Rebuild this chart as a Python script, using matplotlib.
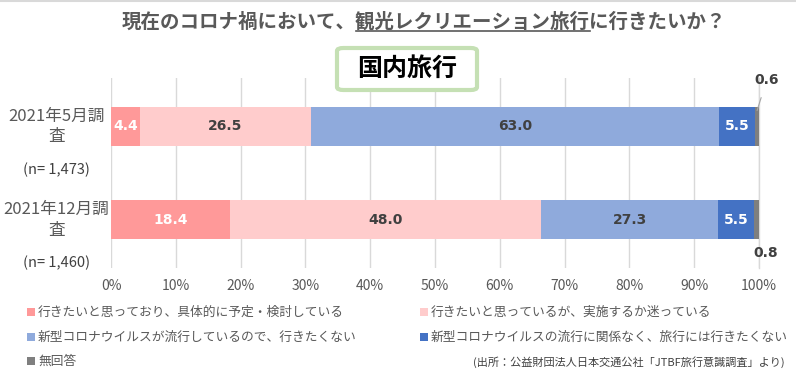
import matplotlib
matplotlib.use('Agg')
import matplotlib.pyplot as plt
from matplotlib.patches import Rectangle, FancyBboxPatch
from matplotlib.lines import Line2D
import matplotlib.transforms as mtransforms
import numpy as np

plt.rcParams['font.family'] = ['Noto Sans CJK JP', 'DejaVu Sans']

surveys = ['2021年5月調\n査', '2021年12月調\n査']
sample_sizes = ['(n= 1,473)', '(n= 1,460)']
categories = ['行きたいと思っており、具体的に予定・検討している',
              '行きたいと思っているが、実施するか迷っている',
              '新型コロナウイルスが流行しているので、行きたくない',
              '新型コロナウイルスの流行に関係なく、旅行には行きたくない',
              '無回答']
may_values = [4.4, 26.5, 63.0, 5.5, 0.6]
dec_values = [18.4, 48.0, 27.3, 5.5, 0.8]
colors = ['#FF9999', '#FFCCCC', '#8FAADC', '#4472C4', '#7F7F7F']
label_colors = ['white', '#404040', '#404040', 'white', '#404040']

text_gray = '#595959'

fig = plt.figure(figsize=(7.96, 3.70), dpi=100)
ax = fig.add_axes([111 / 796, 1 - 268 / 370, 648 / 796, 190 / 370])

data = np.array([may_values, dec_values])
y = np.arange(len(surveys))
left = np.zeros(len(surveys))
for i in range(len(categories)):
    ax.barh(y, data[:, i], left=left, height=0.41, color=colors[i], zorder=2)
    for j in range(len(surveys)):
        v = data[j, i]
        if i < 4:
            ax.text(left[j] + v / 2, y[j], f'{v:.1f}', ha='center', va='center',
                    color=label_colors[i], fontsize=10, fontweight='bold',
                    family='DejaVu Sans', zorder=3)
    left += data[:, i]

# small "no answer" labels outside the bars
ax.annotate(f'{may_values[4]:.1f}', xy=(100 - may_values[4] / 2, y[0] - 0.17),
            xytext=(101.2, y[0] - 0.5), ha='center', va='center',
            fontsize=10, fontweight='bold', family='DejaVu Sans', color='#404040',
            arrowprops=dict(arrowstyle='-', color='#A6A6A6', lw=0.8,
                            shrinkA=6, shrinkB=0), annotation_clip=False)
ax.text(101.0, y[1] + 0.36, f'{dec_values[4]:.1f}', ha='center', va='center',
        fontsize=10, fontweight='bold', family='DejaVu Sans', color='#404040')

ax.set_xlim(0, 100)
ax.set_ylim(1.52, -0.52)
ax.set_xticks(np.arange(0, 101, 10))
ax.set_xticklabels([f'{t}%' for t in range(0, 101, 10)], fontsize=10, color=text_gray)
ax.tick_params(axis='x', length=0, pad=8)
ax.set_yticks([])
ax.grid(axis='x', color='#D9D9D9', lw=1, zorder=0)
ax.axvline(100, color='#D9D9D9', lw=1, zorder=0, clip_on=False)
for s in ax.spines.values():
    s.set_visible(False)

# category labels on the left
trans = mtransforms.blended_transform_factory(ax.transAxes, ax.transData)
for j in range(len(surveys)):
    ax.text(-0.084, y[j], surveys[j], transform=trans, ha='center', va='center',
            fontsize=12, color=text_gray, linespacing=1.3)
    ax.text(-0.084, y[j] + 0.47, sample_sizes[j], transform=trans, ha='center',
            va='center', fontsize=10.5, color='#404040')

# title with underline on the middle part
title = fig.text(0.533, 0.94, '現在のコロナ禍において、観光レクリエーション旅行に行きたいか？',
                 ha='center', va='center', fontsize=14, fontweight='bold', color=text_gray)
fig.canvas.draw()
bb = title.get_window_extent()
cw = bb.width / 31
x0 = (bb.x0 + 12 * cw) / fig.bbox.width
x1 = (bb.x0 + 24 * cw) / fig.bbox.width
yu = (bb.y0 + 1) / fig.bbox.height
fig.add_artist(Line2D([x0, x1], [yu, yu], color=text_gray, lw=1.2))

# boxed subtitle
box = FancyBboxPatch((337 / 796, 1 - 90 / 370), 140 / 796, 42 / 370,
                     boxstyle='round,pad=0,rounding_size=0.008',
                     transform=fig.transFigure, facecolor='white',
                     edgecolor='#C5E0B4', lw=3, zorder=5)
fig.add_artist(box)
fig.text(407 / 796, 1 - 69 / 370, '国内旅行', ha='center', va='center',
         fontsize=18, fontweight='bold', color='black', zorder=6)

# legend drawn by hand in two columns
legend_pos = [(27, 312), (420, 312), (27, 337), (420, 337), (27, 361)]
for (px, py), lab, c in zip(legend_pos, categories, colors):
    fig.add_artist(Rectangle((px / 796, 1 - (py + 4) / 370), 8 / 796, 8 / 370,
                             transform=fig.transFigure, facecolor=c, edgecolor='none'))
    fig.text((px + 11) / 796, 1 - py / 370, lab, ha='left', va='center',
             fontsize=9.2, color=text_gray)

fig.text(785 / 796, 1 - 362 / 370, '(出所：公益財団法人日本交通公社「JTBF旅行意識調査」より)',
         ha='right', va='center', fontsize=8, color='#404040')

fig.add_artist(Line2D([0, 1], [0.998, 0.998], color='#D9D9D9', lw=1.5))

fig.savefig('out.png', dpi=100)
